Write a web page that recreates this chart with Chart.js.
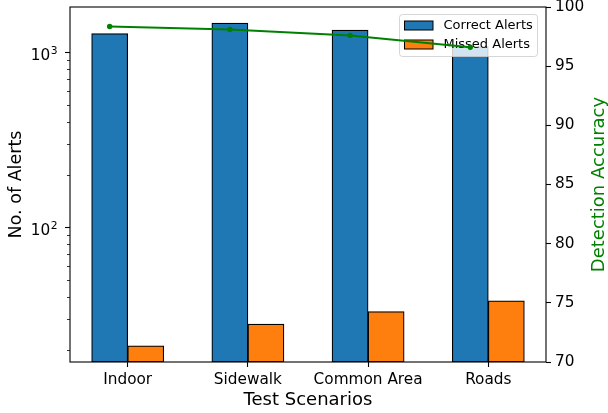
<!DOCTYPE html>
<html>
<head>
<meta charset="utf-8">
<script src="https://cdn.jsdelivr.net/npm/chart.js@4.4.0/dist/chart.umd.min.js"></script>
<style>
html,body{margin:0;padding:0;background:#ffffff;}
#wrap{width:608px;height:413px;position:relative;}
</style>
</head>
<body>
<div id="wrap"><canvas id="c" width="608" height="413"></canvas></div>
<script>
// ---- data ----
const categories = ['Indoor', 'Sidewalk', 'Common Area', 'Roads'];
const correctAlerts = [1280, 1470, 1340, 1080];
const missedAlerts = [21, 28, 33, 38];
const detectionAccuracy = [98.35, 98.1, 97.6, 96.6];
const seriesNames = ['Correct Alerts', 'Missed Alerts'];
const lineName = 'Detection Accuracy';
const alertMajorTicks = [100, 1000];
const accuracyTicks = [70, 75, 80, 85, 90, 95, 100];

// ---- style ----
const FONT = 'DejaVu Sans';
const BLUE = '#1f77b4', ORANGE = '#ff7f0e', GREEN = '#008000';
const BAR_W = 0.3;
const TICK_PX = 15.3;

// x range like matplotlib (5% margins around bar extents)
const xLo = -BAR_W, xHi = categories.length - 1 + BAR_W;
const xMin = xLo - 0.05 * (xHi - xLo), xMax = xHi + 0.05 * (xHi - xLo);
// log y range with 5% margin in log space
const allAlerts = correctAlerts.concat(missedAlerts);
const lMin = Math.log10(Math.min(...allAlerts)), lMax = Math.log10(Math.max(...allAlerts));
const yMin = Math.pow(10, lMin - 0.05 * (lMax - lMin));
const yMax = Math.pow(10, lMax + 0.05 * (lMax - lMin));

function roundRect(ctx, x, y, w, h, r){
  ctx.beginPath();
  ctx.moveTo(x + r, y);
  ctx.lineTo(x + w - r, y); ctx.arcTo(x + w, y, x + w, y + r, r);
  ctx.lineTo(x + w, y + h - r); ctx.arcTo(x + w, y + h, x + w - r, y + h, r);
  ctx.lineTo(x + r, y + h); ctx.arcTo(x, y + h, x, y + h - r, r);
  ctx.lineTo(x, y + r); ctx.arcTo(x, y, x + r, y, r);
  ctx.closePath();
}

function drawLegend(chart){
  const ctx = chart.ctx, a = chart.chartArea;
  const right = a.right - 8.5, top = a.top + 7.5;
  const w = 138, h = 42;
  const left = right - w;
  ctx.save();
  roundRect(ctx, left, top, w, h, 3);
  ctx.fillStyle = 'rgba(255,255,255,0.8)';
  ctx.fill();
  ctx.strokeStyle = 'rgba(204,204,204,0.8)';
  ctx.lineWidth = 1;
  ctx.stroke();
  const colors = [BLUE, ORANGE];
  ctx.font = '13px "' + FONT + '"';
  ctx.textBaseline = 'middle';
  ctx.textAlign = 'left';
  for (let i = 0; i < seriesNames.length; i++){
    const cy = top + 11 + i * 19;
    ctx.fillStyle = colors[i];
    ctx.fillRect(left + 5, cy - 4.5, 28.5, 9);
    ctx.strokeStyle = '#000';
    ctx.lineWidth = 1;
    ctx.strokeRect(left + 5, cy - 4.5, 28.5, 9);
    ctx.fillStyle = '#000';
    ctx.fillText(seriesNames[i], left + 44, cy + 0.5);
  }
  ctx.restore();
}

const decorPlugin = {
  id: 'decor',
  beforeDatasetDraw(chart, args){
    if (args.index === 2) drawLegend(chart);
  },
  afterDatasetsDraw(chart){
    const ctx = chart.ctx, a = chart.chartArea;
    ctx.save();
    ctx.strokeStyle = '#000';
    ctx.lineWidth = 1.1;
    ctx.strokeRect(a.left, a.top, a.right - a.left, a.bottom - a.top);
    // minor log ticks
    const ys = chart.scales.y;
    ctx.lineWidth = 0.8;
    ctx.beginPath();
    for (let d = 1; d <= 10000; d *= 10){
      for (let k = 2; k <= 9; k++){
        const v = k * d;
        if (v < ys.min || v > ys.max) continue;
        const y = Math.round(ys.getPixelForValue(v)) + 0.5;
        ctx.moveTo(a.left - 3, y);
        ctx.lineTo(a.left, y);
      }
    }
    ctx.stroke();
    // major log labels as 10 with superscript exponent (mathtext style)
    ctx.fillStyle = '#000';
    ctx.textBaseline = 'alphabetic';
    ys.ticks.forEach(t => {
      const y = ys.getPixelForValue(t.value);
      const e = String(Math.round(Math.log10(t.value)));
      ctx.font = (TICK_PX * 0.7) + 'px "' + FONT + '"';
      const ew = ctx.measureText(e).width;
      const xr = a.left - 12.5;
      ctx.textAlign = 'right';
      ctx.fillText(e, xr, y + 2);
      ctx.font = TICK_PX + 'px "' + FONT + '"';
      ctx.fillText('10', xr - ew - 0.5, y + 7.5);
    });
    // right axis title (reads bottom-to-top, like matplotlib)
    ctx.translate(599, (a.top + a.bottom) / 2);
    ctx.rotate(-Math.PI / 2);
    ctx.fillStyle = GREEN;
    ctx.font = '18px "' + FONT + '"';
    ctx.textAlign = 'center';
    ctx.textBaseline = 'middle';
    ctx.fillText(lineName, 0, 0);
    ctx.restore();
  }
};

const tickGrid = { offset: false, drawOnChartArea: false, drawTicks: true, tickLength: 5, tickColor: '#000', tickWidth: 1.1 };

function noPadV(s, w){ s.width = w; s.paddingTop = 0; s.paddingBottom = 0; }

new Chart(document.getElementById('c'), {
  type: 'bar',
  data: {
    datasets: [
      {
        label: seriesNames[0],
        data: correctAlerts.map((v, i) => ({x: i - BAR_W / 2, y: v})),
        backgroundColor: BLUE, borderColor: '#000', borderWidth: 1.2,
        borderSkipped: false, grouped: false, barPercentage: 1, categoryPercentage: 1,
        xAxisID: 'x', yAxisID: 'y', order: 1
      },
      {
        label: seriesNames[1],
        data: missedAlerts.map((v, i) => ({x: i + BAR_W / 2, y: v})),
        backgroundColor: ORANGE, borderColor: '#000', borderWidth: 1.2,
        borderSkipped: false, grouped: false, barPercentage: 1, categoryPercentage: 1,
        xAxisID: 'x', yAxisID: 'y', order: 1
      },
      {
        type: 'line',
        label: lineName,
        data: detectionAccuracy.map((v, i) => ({x: i - BAR_W / 2, y: v})),
        borderColor: GREEN, backgroundColor: GREEN, borderWidth: 2,
        pointRadius: 2.7, pointBackgroundColor: GREEN, pointBorderWidth: 0,
        tension: 0, fill: false, clip: false,
        xAxisID: 'x', yAxisID: 'y2', order: 0
      }
    ]
  },
  options: {
    responsive: false,
    animation: false,
    devicePixelRatio: 1,
    layout: { padding: { top: 7, left: 0, right: 0, bottom: 0 } },
    plugins: { legend: { display: false }, tooltip: { enabled: false } },
    scales: {
      x: {
        type: 'linear', position: 'bottom', min: xMin, max: xMax, offset: false,
        afterBuildTicks: s => { s.ticks = categories.map((c, i) => ({value: i})); },
        afterFit: s => { s.height = 51; s.paddingLeft = 0; s.paddingRight = 0; },
        ticks: { callback: v => categories[v], font: {family: FONT, size: TICK_PX}, color: '#000', padding: 4, autoSkip: false, maxRotation: 0 },
        grid: tickGrid,
        border: { display: false },
        title: { display: true, text: 'Test Scenarios', color: '#000', font: {family: FONT, size: 18, lineHeight: 1}, padding: {top: 0, bottom: 4} }
      },
      y: {
        type: 'logarithmic', position: 'left', min: yMin, max: yMax, offset: false,
        afterBuildTicks: s => { s.ticks = alertMajorTicks.map(v => ({value: v})); },
        afterFit: s => noPadV(s, 70),
        ticks: { callback: () => '', font: {family: FONT, size: TICK_PX}, color: '#000', padding: 7 },
        grid: tickGrid,
        border: { display: false },
        title: { display: true, text: 'No. of Alerts', color: '#000', font: {family: FONT, size: 17.5, lineHeight: 1}, padding: {top: 7.5, bottom: 0} }
      },
      y2: {
        type: 'linear', position: 'right', min: 70, max: 100, offset: false,
        afterBuildTicks: s => { s.ticks = accuracyTicks.map(v => ({value: v})); },
        afterFit: s => noPadV(s, 62),
        ticks: { font: {family: FONT, size: TICK_PX}, color: '#000', padding: 4 },
        grid: tickGrid,
        border: { display: false },
        title: { display: false }
      }
    }
  },
  plugins: [decorPlugin]
});
</script>
</body>
</html>
